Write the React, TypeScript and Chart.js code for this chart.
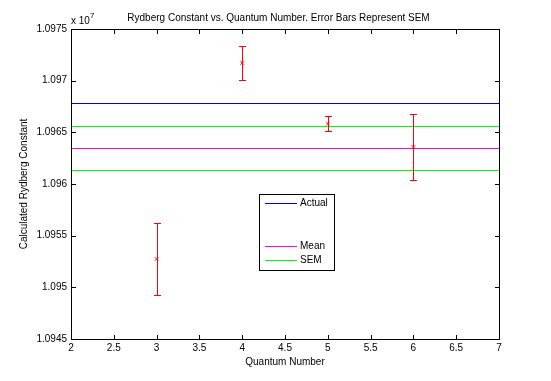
import React, { useEffect, useRef } from 'react';
import { Chart, registerables } from 'chart.js';

Chart.register(...registerables);

// Values in units of 10^7 m^-1
const quantumNumbers = [3, 4, 5, 6];
const rydbergValues = [1.095274, 1.097171, 1.096584, 1.096358];
const semErrors = [0.000344, 0.00016, 0.0000725, 0.000316];
const actualValue = 1.096784;
const meanValue = 1.096347;
const semOffset = 0.000213;
const xTickValues = [2, 2.5, 3, 3.5, 4, 4.5, 5, 5.5, 6, 6.5, 7];
const yTickValues = [1.0945, 1.095, 1.0955, 1.096, 1.0965, 1.097, 1.0975];
const xRange = [2, 7];
const yRange = [1.0945, 1.0975];
const legendNames = ['Actual', '', '', 'Mean', 'SEM'];
const legendColors = ['#0000d0', '', '', '#ff00ff', '#00ff00'];

const FONT = "'Liberation Sans', Arial, Helvetica, sans-serif";

const refLines = [
  { value: actualValue, color: '#0000d0' },
  { value: meanValue, color: '#ff00ff' },
  { value: meanValue + semOffset, color: '#00ff00' },
  { value: meanValue - semOffset, color: '#00ff00' },
];

const matlabPlugin = {
  id: 'matlabStyle',
  beforeDatasetsDraw(chart: any) {
    const { ctx, scales } = chart;
    const xs = scales.x;
    const ys = scales.y;
    ctx.save();
    ctx.lineWidth = 1;
    refLines.forEach((l) => {
      const py = Math.round(ys.getPixelForValue(l.value)) + 0.5;
      ctx.strokeStyle = l.color;
      ctx.beginPath();
      ctx.moveTo(xs.getPixelForValue(xRange[0]), py);
      ctx.lineTo(xs.getPixelForValue(xRange[1]), py);
      ctx.stroke();
    });
    ctx.strokeStyle = '#ff0000';
    quantumNumbers.forEach((q, i) => {
      const px = Math.round(xs.getPixelForValue(q)) + 0.5;
      const top = Math.round(ys.getPixelForValue(rydbergValues[i] + semErrors[i])) + 0.5;
      const bot = Math.round(ys.getPixelForValue(rydbergValues[i] - semErrors[i])) + 0.5;
      ctx.beginPath();
      ctx.moveTo(px, top);
      ctx.lineTo(px, bot);
      ctx.moveTo(px - 3.5, top);
      ctx.lineTo(px + 3.5, top);
      ctx.moveTo(px - 3.5, bot);
      ctx.lineTo(px + 3.5, bot);
      ctx.stroke();
    });
    ctx.restore();
  },
  afterDraw(chart: any) {
    const { ctx, chartArea, scales } = chart;
    const { left, right, top, bottom } = chartArea;
    const xs = scales.x;
    const ys = scales.y;
    ctx.save();
    ctx.strokeStyle = '#000';
    ctx.lineWidth = 1;
    ctx.strokeRect(left + 0.5, top + 0.5, right - left, bottom - top);
    ctx.beginPath();
    xTickValues.forEach((v) => {
      const px = Math.round(xs.getPixelForValue(v)) + 0.5;
      ctx.moveTo(px, bottom + 0.5);
      ctx.lineTo(px, bottom - 4);
      ctx.moveTo(px, top + 0.5);
      ctx.lineTo(px, top + 5);
    });
    yTickValues.forEach((v) => {
      const py = Math.round(ys.getPixelForValue(v)) + 0.5;
      ctx.moveTo(left + 0.5, py);
      ctx.lineTo(left + 5, py);
      ctx.moveTo(right + 0.5, py);
      ctx.lineTo(right - 4, py);
    });
    ctx.stroke();

    // title
    ctx.fillStyle = '#000';
    ctx.font = `10px ${FONT}`;
    ctx.textAlign = 'center';
    ctx.textBaseline = 'alphabetic';
    ctx.fillText('Rydberg Constant vs. Quantum Number. Error Bars Represent SEM', 278.5, 20.5);

    // exponent
    ctx.textAlign = 'left';
    ctx.fillText('x 10', left, 23.5);
    ctx.font = `8px ${FONT}`;
    ctx.fillText('7', left + 19, 17.5);

    // legend
    const lx = 259.5, ly = 194.5, lw = 75, lh = 76;
    ctx.fillStyle = '#fff';
    ctx.fillRect(lx, ly, lw, lh);
    ctx.strokeStyle = '#000';
    ctx.strokeRect(lx, ly, lw, lh);
    ctx.font = `10px ${FONT}`;
    ctx.textBaseline = 'middle';
    legendNames.forEach((name, i) => {
      if (!name) return;
      const y = Math.round(203 + i * 14.35) + 0.5;
      ctx.strokeStyle = legendColors[i];
      ctx.beginPath();
      ctx.moveTo(265, y);
      ctx.lineTo(297, y);
      ctx.stroke();
      ctx.fillStyle = '#000';
      ctx.fillText(name, 300, y);
    });
    ctx.restore();
  },
};

export default function App() {
  const canvasRef = useRef<HTMLCanvasElement>(null);

  useEffect(() => {
    if (!canvasRef.current) return;
    Chart.defaults.font.family = FONT;
    const chart = new Chart(canvasRef.current, {
      type: 'scatter',
      data: {
        datasets: [
          {
            label: 'Data',
            data: quantumNumbers.map((q, i) => ({ x: q, y: rydbergValues[i] })),
            pointStyle: 'crossRot',
            pointRadius: 2.5,
            borderColor: '#ff0000',
            backgroundColor: '#ff0000',
            borderWidth: 1,
          },
        ],
      },
      options: {
        responsive: false,
        animation: false,
        layout: { padding: { top: 29, right: 52, left: 0, bottom: 0 } },
        plugins: { legend: { display: false }, tooltip: { enabled: false }, title: { display: false } },
        scales: {
          x: {
            type: 'linear',
            min: xRange[0],
            max: xRange[1],
            afterBuildTicks: (s: any) => {
              s.ticks = xTickValues.map((v) => ({ value: v }));
            },
            afterFit: (s: any) => {
              s.height = 42;
            },
            grid: { display: false, drawTicks: false },
            border: { display: false },
            ticks: {
              color: '#000',
              font: { size: 10 },
              padding: 3,
              maxRotation: 0,
              autoSkip: false,
              callback: (v: any) => String(v),
            },
            title: {
              display: true,
              text: 'Quantum Number',
              color: '#000',
              font: { size: 10 },
              padding: { top: 0, bottom: 13 },
            },
          },
          y: {
            type: 'linear',
            min: yRange[0],
            max: yRange[1],
            afterBuildTicks: (s: any) => {
              s.ticks = yTickValues.map((v) => ({ value: v }));
            },
            afterFit: (s: any) => {
              s.width = 71;
            },
            grid: { display: false, drawTicks: false },
            border: { display: false },
            ticks: {
              color: '#000',
              font: { size: 10 },
              padding: 4,
              autoSkip: false,
              callback: (v: any) => String(v),
            },
            title: {
              display: true,
              text: 'Calculated Rydberg Constant',
              color: '#000',
              font: { size: 10 },
              padding: { top: 18, bottom: 0 },
            },
          },
        },
      },
      plugins: [matlabPlugin],
    });
    return () => chart.destroy();
  }, []);

  return (
    <div style={{ position: 'fixed', left: 0, top: 0, width: 551, height: 381, background: '#fff' }}>
      <canvas ref={canvasRef} width={551} height={381} style={{ display: 'block' }} />
    </div>
  );
}
